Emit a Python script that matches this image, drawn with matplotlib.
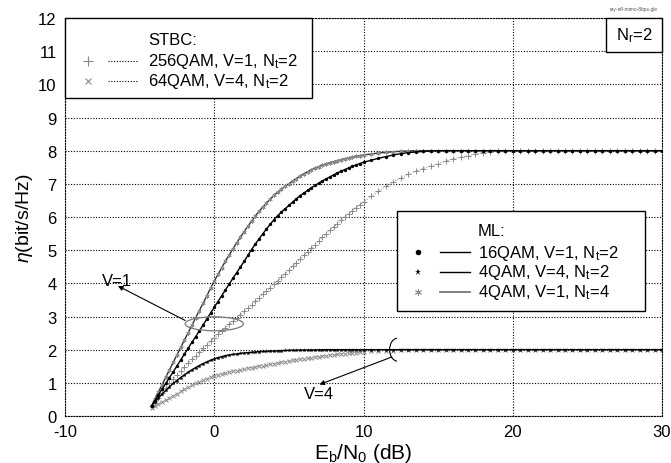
import numpy as np
import matplotlib
matplotlib.use('Agg')
import matplotlib.pyplot as plt
from matplotlib.patches import Rectangle, Ellipse, Arc

plt.rcParams['font.family'] = ['Liberation Sans', 'DejaVu Sans']
plt.rcParams['mathtext.fontset'] = 'custom'
plt.rcParams['mathtext.rm'] = 'Liberation Sans'
plt.rcParams['mathtext.it'] = 'Liberation Sans:italic'
plt.rcParams['axes.unicode_minus'] = False

# Eb/N0 sample points (dB): -4.2, then 0.25 dB steps up to 10, 0.5 dB steps up to 30
ebn0 = np.concatenate([[-4.2], np.arange(-4.0, 9.9, 0.25), np.arange(10.0, 30.01, 0.5)])

# ML 16QAM, V=1, Nt=2
ml_16qam_v1 = [0.30, 0.45, 0.63, 0.81, 0.98, 1.16, 1.33, 1.51, 1.69, 1.87, 2.04, 2.22, 2.39, 2.57, 2.74, 2.92, 3.10,
               3.28, 3.45, 3.63, 3.80, 3.98, 4.15, 4.32, 4.49, 4.66, 4.84, 5.02, 5.18, 5.34, 5.49, 5.64, 5.78, 5.92, 6.04, 6.15, 6.25,
               6.35, 6.45, 6.55, 6.64, 6.72, 6.80, 6.88, 6.95, 7.02, 7.09, 7.15, 7.21, 7.27, 7.33, 7.38, 7.43, 7.48, 7.53, 7.57, 7.61,
               7.65, 7.71, 7.77, 7.82, 7.87, 7.91, 7.94, 7.96, 7.98, 7.99,
               8.0, 8.0, 8.0, 8.0, 8.0, 8.0, 8.0, 8.0, 8.0, 8.0,
               8.0, 8.0, 8.0, 8.0, 8.0, 8.0, 8.0, 8.0, 8.0, 8.0,
               8.0, 8.0, 8.0, 8.0, 8.0, 8.0, 8.0, 8.0, 8.0, 8.0,
               8.0]
# ML 4QAM, V=4, Nt=2
ml_4qam_v4 = [0.30, 0.42, 0.54, 0.66, 0.77, 0.88, 0.98, 1.07, 1.16, 1.24, 1.32, 1.39, 1.46, 1.52, 1.58, 1.63, 1.68,
              1.72, 1.76, 1.79, 1.82, 1.84, 1.86, 1.87, 1.89, 1.90, 1.91, 1.92, 1.93, 1.94, 1.945, 1.95, 1.955, 1.96, 1.965, 1.97, 1.975,
              1.98, 1.983, 1.985, 1.988, 1.99, 1.99, 1.99, 1.993, 1.995, 1.998, 2.0, 2.0, 2.0, 2.0, 2.0, 2.0, 2.0, 2.0, 2.0, 2.0,
              2.0, 2.0, 2.0, 2.0, 2.0, 2.0, 2.0, 2.0, 2.0, 2.0,
              2.0, 2.0, 2.0, 2.0, 2.0, 2.0, 2.0, 2.0, 2.0, 2.0,
              2.0, 2.0, 2.0, 2.0, 2.0, 2.0, 2.0, 2.0, 2.0, 2.0,
              2.0, 2.0, 2.0, 2.0, 2.0, 2.0, 2.0, 2.0, 2.0, 2.0,
              2.0]
# ML 4QAM, V=1, Nt=4
ml_4qam_v1_nt4 = [0.30, 0.50, 0.72, 0.94, 1.17, 1.39, 1.62, 1.84, 2.07, 2.29, 2.51, 2.73, 2.96, 3.18, 3.40, 3.62, 3.85,
                  4.07, 4.27, 4.47, 4.67, 4.86, 5.04, 5.22, 5.39, 5.56, 5.72, 5.88, 6.03, 6.17, 6.30, 6.42, 6.54, 6.65, 6.75, 6.84, 6.92,
                  7.00, 7.08, 7.16, 7.23, 7.30, 7.36, 7.42, 7.47, 7.52, 7.56, 7.60, 7.64, 7.67, 7.70, 7.73, 7.76, 7.78, 7.81, 7.83, 7.85,
                  7.87, 7.90, 7.93, 7.95, 7.97, 7.98, 7.99, 8.0, 8.0, 8.0,
                  8.0, 8.0, 8.0, 8.0, 8.0, 8.0, 8.0, 8.0, 8.0, 8.0,
                  8.0, 8.0, 8.0, 8.0, 8.0, 8.0, 8.0, 8.0, 8.0, 8.0,
                  8.0, 8.0, 8.0, 8.0, 8.0, 8.0, 8.0, 8.0, 8.0, 8.0,
                  8.0]
# STBC 256QAM, V=1, Nt=2
stbc_256qam_v1 = [0.30, 0.40, 0.55, 0.70, 0.85, 1.00, 1.12, 1.24, 1.36, 1.48, 1.60, 1.71, 1.82, 1.93, 2.04, 2.14, 2.25,
                  2.35, 2.46, 2.56, 2.66, 2.76, 2.86, 2.96, 3.06, 3.16, 3.26, 3.36, 3.46, 3.56, 3.67, 3.77, 3.87, 3.97, 4.08, 4.18, 4.29,
                  4.40, 4.51, 4.62, 4.73, 4.84, 4.95, 5.06, 5.17, 5.28, 5.39, 5.50, 5.60, 5.70, 5.80, 5.90, 6.00, 6.10, 6.19, 6.28, 6.37,
                  6.45, 6.62, 6.78, 6.93, 7.06, 7.18, 7.29, 7.38, 7.46, 7.54,
                  7.61, 7.68, 7.75, 7.80, 7.85, 7.90, 7.94, 7.96, 7.98, 7.99,
                  8.0, 8.0, 8.0, 8.0, 8.0, 8.0, 8.0, 8.0, 8.0, 8.0,
                  8.0, 8.0, 8.0, 8.0, 8.0, 8.0, 8.0, 8.0, 8.0, 8.0,
                  8.0]
# STBC 64QAM, V=4, Nt=2
stbc_64qam_v4 = [0.25, 0.30, 0.36, 0.42, 0.49, 0.55, 0.61, 0.67, 0.74, 0.80, 0.86, 0.92, 0.98, 1.03, 1.08, 1.13, 1.18,
                 1.22, 1.25, 1.27, 1.30, 1.32, 1.35, 1.37, 1.40, 1.42, 1.44, 1.46, 1.48, 1.50, 1.52, 1.54, 1.56, 1.58, 1.60, 1.62, 1.64,
                 1.66, 1.68, 1.70, 1.715, 1.73, 1.745, 1.76, 1.775, 1.79, 1.805, 1.82, 1.835, 1.85, 1.86, 1.87, 1.88, 1.89, 1.90, 1.91, 1.92,
                 1.93, 1.945, 1.955, 1.965, 1.97, 1.98, 1.985, 1.99, 1.995, 2.0,
                 2.0, 2.0, 2.0, 2.0, 2.0, 2.0, 2.0, 2.0, 2.0, 2.0,
                 2.0, 2.0, 2.0, 2.0, 2.0, 2.0, 2.0, 2.0, 2.0, 2.0,
                 2.0, 2.0, 2.0, 2.0, 2.0, 2.0, 2.0, 2.0, 2.0, 2.0,
                 2.0]

x_ticks = [-10, 0, 10, 20, 30]
y_ticks = list(range(0, 13))

GRAY = '#8a8a8a'
NT = r'N$_\mathregular{t}$'

fig = plt.figure(figsize=(6.71, 4.64), dpi=100)
ax = fig.add_axes([65 / 671, 47 / 464, 597 / 671, 398 / 464])

# curves
ax.plot(ebn0, stbc_256qam_v1, color=GRAY, ls=(0, (1, 1.5)), lw=0.7,
        marker='+', ms=4.5, mew=0.7, zorder=3)
ax.plot(ebn0, stbc_64qam_v4, color=GRAY, ls=(0, (1, 1.5)), lw=0.7,
        marker='x', ms=3.2, mew=0.7, zorder=3)
ax.plot(ebn0, ml_4qam_v1_nt4, color='#333333', lw=1.0,
        marker=(6, 2, 0), ms=3.0, mew=0.5, mec=GRAY, zorder=3)
ax.plot(ebn0, ml_16qam_v1, color='black', lw=1.0,
        marker='o', ms=2.4, mew=0, zorder=4)
ax.plot(ebn0, ml_4qam_v4, color='black', lw=1.0,
        marker='*', ms=3.2, mew=0, zorder=4)

ax.set_xlim(-10, 30)
ax.set_ylim(0, 12)
ax.set_xticks(x_ticks)
ax.set_yticks(y_ticks)
ax.tick_params(length=0, labelsize=12, pad=6)
ax.grid(True, color='black', ls=(0, (1, 1.5)), lw=0.8)
for sp in ax.spines.values():
    sp.set_linestyle((0, (1, 1.5)))
    sp.set_linewidth(0.8)

ax.set_xlabel(r'E$_\mathregular{b}$/N$_\mathregular{0}$ (dB)', fontsize=15, labelpad=1)
ax.set_ylabel(r'$\eta$(bit/s/Hz)', fontsize=14, labelpad=2)

# annotations
ax.add_patch(Ellipse((0.0, 2.78), width=3.9, height=0.42, fill=False,
                     ec='#777777', lw=0.9, zorder=5))
ax.annotate('', xy=(-6.45, 3.92), xytext=(-1.95, 2.88),
            arrowprops=dict(arrowstyle='-|>', color='black', lw=0.8,
                            mutation_scale=7, shrinkA=0, shrinkB=0))
ax.text(-6.5, 4.1, 'V=1', fontsize=12, ha='center', va='center')

ax.add_patch(Arc((12.3, 2.0), width=1.1, height=0.7, theta1=100, theta2=260,
                 ec='black', lw=0.8, zorder=5))
ax.annotate('', xy=(7.05, 0.95), xytext=(11.9, 1.78),
            arrowprops=dict(arrowstyle='-|>', color='black', lw=0.8,
                            mutation_scale=7, shrinkA=0, shrinkB=0))
ax.text(7.0, 0.69, 'V=4', fontsize=12, ha='center', va='center')

T = ax.transAxes


def box(x0, y0, x1, y1):
    ax.add_patch(Rectangle((x0, y0), x1 - x0, y1 - y0, transform=T,
                           fc='white', ec='black', lw=1.0, zorder=6, clip_on=False))


def entry(mx, lx0, lx1, tx, y, label, mkw, lkw):
    ax.plot([mx], [y], transform=T, zorder=7, clip_on=False, ls='none', **mkw)
    ax.plot([lx0, lx1], [y, y], transform=T, zorder=7, clip_on=False, **lkw)
    ax.text(tx, y, label, transform=T, fontsize=12, va='center', ha='left', zorder=7)


# STBC legend
box(0.0, 0.799, 0.414, 1.0)
ax.text(0.139, 0.945, 'STBC:', transform=T, fontsize=12, va='center', zorder=7)
dot = dict(color='black', ls=(0, (1, 1.5)), lw=0.8)
entry(0.0385, 0.072, 0.123, 0.139, 0.892, '256QAM, V=1, ' + NT + '=2',
      dict(marker='+', ms=7, mew=0.8, color=GRAY), dot)
entry(0.0385, 0.072, 0.123, 0.139, 0.842, '64QAM, V=4, ' + NT + '=2',
      dict(marker='x', ms=5, mew=0.8, color=GRAY), dot)

# ML legend
box(0.556, 0.264, 0.972, 0.515)
ax.text(0.692, 0.465, 'ML:', transform=T, fontsize=12, va='center', zorder=7)
entry(0.591, 0.628, 0.678, 0.692, 0.412, '16QAM, V=1, ' + NT + '=2',
      dict(marker='o', ms=4, mew=0, color='black'), dict(color='black', lw=1.0))
entry(0.591, 0.628, 0.678, 0.692, 0.362, '4QAM, V=4, ' + NT + '=2',
      dict(marker='*', ms=5, mew=0, color='black'), dict(color='black', lw=1.0))
entry(0.591, 0.628, 0.678, 0.692, 0.312, '4QAM, V=1, ' + NT + '=4',
      dict(marker=(6, 2, 0), ms=5, mew=0.6, color=GRAY), dict(color='#777777', lw=1.3))

# Nr box
box(0.906, 0.915, 1.0, 1.0)
ax.text(0.953, 0.957, r'N$_\mathregular{r}$=2', transform=T, fontsize=12,
        ha='center', va='center', zorder=7)

fig.text(634 / 671, 1 - 10 / 464, 'ray-eff-mimo-8bps.gle', fontsize=3.5,
         color='#555555', ha='center', va='center')

fig.savefig('out.png', dpi=100)
